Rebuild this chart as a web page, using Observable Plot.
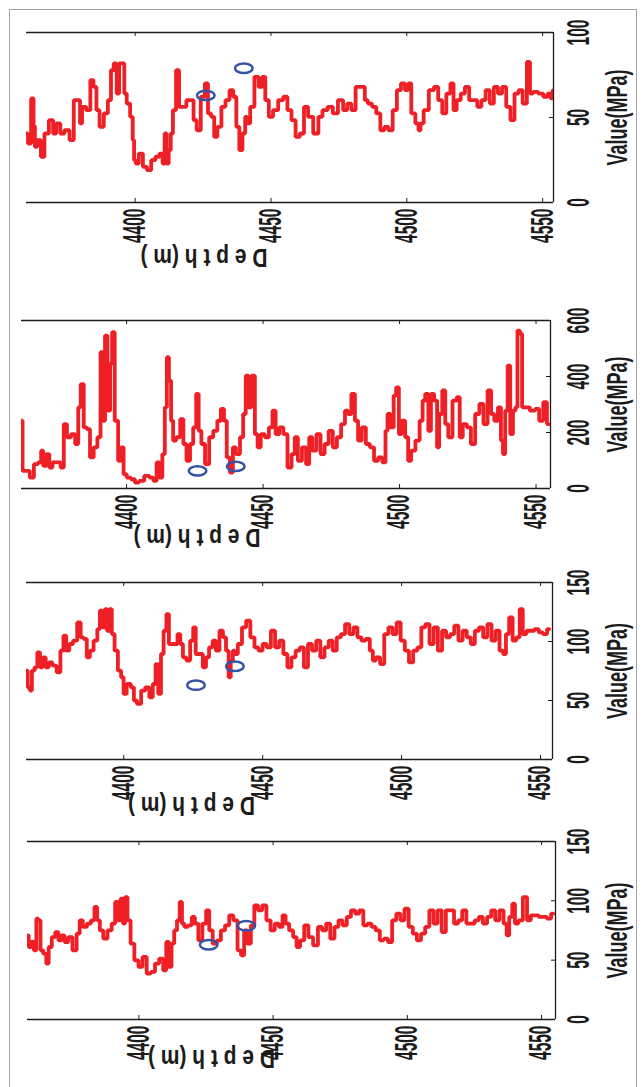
<!DOCTYPE html>
<html>
<head>
<meta charset="utf-8">
<script src="https://cdn.jsdelivr.net/npm/d3@7"></script>
<script src="https://cdn.jsdelivr.net/npm/@observablehq/plot@0.6"></script>
<style>
  html, body { margin: 0; padding: 0; background: #fff; }
  #fig { position: relative; width: 643px; height: 1087px; overflow: hidden; background: #fff; }
  #border { position: absolute; left: 9px; top: 9px; width: 628px; height: 1100px; border: 1.5px solid #a3a3a3; box-sizing: border-box; }
  .panel { position: absolute; left: 0; }
</style>
</head>
<body>
<div id="fig"><div id="border"></div></div>
<script>
// ---------------- data ----------------
const depthTicks = [4400, 4450, 4500, 4550];
const depthLabel = "D e p t h (m )";
const valueLabel = "Value(MPa)";
const markerDepth = [4426, 4440];
const markerValue = [63, 79];

const yTicks1 = [0, 50, 100];
const yTicks2 = [0, 200, 400, 600];
const yTicks3 = [0, 50, 100, 150];
const yTicks4 = [0, 50, 100, 150];

const depth1 = [4360.0,4361.1,4362.3,4362.9,4363.3,4364.5,4366.1,4367.1,4369.4,4370.2,4371.7,4373.2,4374.7,4377.0,4377.8,4379.3,4380.1,4380.8,4383.1,4383.9,4385.4,4386.1,4387.7,4389.2,4390.7,4391.5,4392.7,4393.7,4394.5,4395.7,4396.3,4397.5,4398.8,4399.4,4399.8,4400.6,4402.1,4403.6,4405.1,4406.7,4408.2,4409.7,4410.5,4411.2,4412.0,4412.7,4413.5,4414.3,4415.8,4416.5,4418.1,4419.6,4421.1,4421.9,4423.4,4424.9,4426.4,4427.2,4428.7,4429.5,4431.0,4432.5,4434.0,4435.5,4436.7,4437.8,4438.9,4440.1,4440.9,4441.6,4443.1,4444.7,4446.2,4447.4,4448.4,4450.0,4451.5,4453.8,4455.3,4456.8,4458.3,4459.8,4461.4,4462.9,4464.4,4466.7,4468.2,4469.7,4472.0,4473.5,4475.8,4477.3,4478.8,4480.4,4481.9,4484.2,4484.9,4486.4,4488.0,4489.5,4491.0,4492.5,4494.0,4495.6,4497.1,4498.6,4500.1,4500.9,4502.4,4503.9,4504.7,4505.4,4507.0,4509.2,4510.8,4512.3,4513.8,4515.3,4516.8,4517.6,4519.1,4520.6,4522.2,4523.7,4525.2,4526.7,4528.2,4529.8,4531.3,4532.8,4534.3,4535.8,4537.4,4538.9,4540.4,4541.9,4543.4,4545.0,4545.7,4547.2,4549.5,4551.0,4552.6,4553.3,4554.0];
const value1 = [40.6,34.7,61.2,45,32.7,36.7,26.9,40.6,48.4,40.6,46.5,40.6,42.5,36.7,60.2,60.2,46.5,56.3,54.3,72.0,68.0,54.3,44.5,52.4,60.2,77.8,81.8,64.1,81.8,81.8,64.1,58.2,50.4,36.7,24.9,22.9,28.8,21.0,19.0,24.9,26.9,28.8,22.9,40.6,22.9,30.8,40.6,54.3,77.8,56.3,56.3,60.2,60.2,48.4,42.5,62.2,70.0,52.4,50.4,38.6,44.5,56.3,60.2,66.1,62.2,44.5,30.8,40.6,50.4,46.5,56.3,73.9,68.0,73.9,60.2,50.4,54.3,60.2,62.2,54.3,48.4,38.6,40.6,56.3,50.4,40.6,50.4,54.3,56.3,52.4,60.2,54.3,58.2,54.3,68.0,68.0,60.2,58.2,56.3,52.4,42.5,44.5,42.5,54.3,66.1,70.0,66.1,70.0,52.4,46.5,42.5,46.5,54.3,66.1,68.0,60.2,52.4,64.1,70.0,54.3,60.2,64.1,68.0,60.2,60.2,56.3,60.2,66.1,58.2,68.0,64.1,68.0,56.3,48.4,64.1,66.1,58.2,82.7,64.1,65.1,64.1,62.2,64.1,61.2,66.0];

const depth2 = [4361.5,4362.3,4363.8,4365.3,4366.8,4368.3,4369.1,4369.8,4371.3,4372.1,4373.6,4375.1,4376.6,4377.4,4378.9,4380.4,4381.9,4382.7,4383.7,4384.9,4386.0,4387.2,4388.7,4389.9,4391.0,4391.7,4392.5,4393.5,4394.4,4395.0,4396.3,4397.5,4398.5,4399.3,4400.8,4402.3,4403.8,4405.3,4407.6,4409.1,4410.6,4411.4,4412.6,4413.6,4414.4,4415.1,4415.9,4416.7,4417.4,4418.9,4420.4,4421.2,4422.7,4423.8,4425.0,4426.0,4426.8,4428.0,4429.5,4431.0,4432.5,4434.0,4435.1,4436.3,4437.1,4438.6,4439.3,4440.8,4442.3,4443.1,4444.2,4445.1,4446.4,4447.6,4448.4,4449.9,4451.4,4452.9,4454.0,4455.2,4456.7,4458.2,4459.7,4461.2,4462.0,4463.5,4465.0,4466.5,4467.3,4468.8,4470.3,4471.8,4473.3,4474.8,4476.3,4477.8,4479.4,4480.6,4481.6,4483.1,4484.2,4485.4,4486.9,4488.4,4489.9,4491.4,4492.9,4494.5,4495.2,4496.0,4497.5,4498.2,4499.3,4500.2,4501.3,4502.8,4503.5,4505.0,4506.6,4508.1,4508.8,4510.0,4511.1,4511.9,4513.4,4514.1,4514.9,4516.4,4517.1,4518.6,4520.2,4521.7,4522.4,4523.9,4525.4,4526.9,4528.5,4530.0,4531.5,4533.0,4534.1,4535.3,4536.8,4537.5,4538.3,4539.1,4540.1,4541.0,4542.1,4542.8,4543.6,4544.6,4545.2,4546.6,4548.9,4550.4,4551.9,4553.4,4554.6];
const value2 = [242,63,63,39,87,93,135,81,123,75,93,93,75,230,183,194,159,290,373,218,212,111,147,183,487,242,546,278,445,558,242,99,147,51,39,33,21,27,45,39,27,93,39,123,290,469,385,242,171,183,248,159,99,159,218,338,206,159,87,183,206,242,284,242,111,57,147,123,183,266,403,290,403,194,147,194,183,218,278,194,218,194,75,123,183,99,147,87,183,135,194,123,159,206,147,183,230,278,266,338,242,171,218,159,147,99,111,93,206,266,218,332,361,194,242,183,99,135,171,242,314,338,206,338,314,147,266,350,230,183,314,326,183,230,218,159,266,302,230,350,266,242,290,171,123,278,439,194,278,290,564,552,290,290,278,284,242,308,230];

const depth3 = [4365.0,4365.9,4366.5,4367.4,4368.4,4369.4,4370.3,4371.4,4372.4,4373.6,4375.1,4376.6,4377.8,4378.8,4379.8,4381.0,4382.5,4384.0,4385.0,4386.2,4387.2,4388.4,4389.9,4391.1,4391.7,4392.9,4393.6,4394.4,4395.3,4396.1,4397.3,4398.5,4399.6,4400.3,4401.8,4403.3,4404.0,4405.5,4407.0,4408.5,4409.9,4411.0,4411.9,4412.9,4413.9,4414.8,4415.9,4416.6,4417.8,4418.8,4419.9,4420.8,4421.8,4423.3,4424.5,4425.5,4426.3,4427.7,4429.2,4430.0,4431.4,4432.6,4433.7,4435.2,4436.2,4437.4,4438.1,4438.9,4439.6,4440.3,4441.8,4443.3,4444.8,4446.3,4447.8,4449.2,4450.7,4452.2,4453.7,4455.2,4456.7,4458.2,4459.6,4461.1,4462.6,4464.1,4465.6,4467.0,4468.5,4470.0,4471.5,4473.0,4474.5,4475.9,4477.4,4478.9,4480.4,4481.9,4483.4,4484.8,4486.3,4487.8,4489.3,4490.0,4491.5,4493.0,4494.5,4496.0,4497.5,4498.9,4500.4,4501.9,4503.4,4504.9,4506.4,4507.8,4509.3,4510.8,4512.3,4513.8,4515.3,4516.7,4518.2,4519.7,4521.2,4522.7,4524.2,4525.6,4527.1,4528.6,4530.1,4531.6,4533.1,4534.5,4536.0,4537.1,4538.0,4539.4,4540.5,4542.0,4543.0,4544.2,4545.7,4547.1,4548.6,4550.1,4551.6,4553.1];
const value3 = [75.3,61.2,58.4,75.3,78.1,90.8,78.1,86.6,78.1,82.3,79.5,73.9,92.2,104.9,92.2,97.9,100.7,116.2,103.5,102.1,86.6,92.2,100.7,110.5,126.1,112.0,127.5,109.1,127.5,106.3,92.2,75.3,69.7,55.6,64.0,61.2,49.9,47.1,58.4,61.2,52.7,64.0,80.9,55.6,89.4,109.1,123.2,97.9,97.9,97.9,106.3,97.9,86.6,83.8,100.7,112.0,89.4,89.4,78.1,86.6,95.0,100.7,92.2,109.1,103.5,92.2,69.7,83.8,92.2,89.4,97.9,112.0,117.6,103.5,95.0,92.2,97.9,95.0,109.1,95.0,100.7,89.4,78.1,86.6,92.2,95.0,78.1,97.9,92.2,100.7,86.6,95.0,100.7,92.2,103.5,106.3,114.8,106.3,112.0,103.5,100.7,102.1,92.2,83.8,86.6,80.9,106.3,112.0,106.3,116.2,100.7,92.2,82.3,92.2,95.0,112.0,114.8,97.9,112.0,92.2,109.1,103.5,106.3,113.4,100.7,109.1,103.5,97.9,109.1,112.0,103.5,114.8,100.7,109.1,92.2,89.4,106.3,120.4,100.7,103.5,127.5,106.3,109.1,109.1,110.5,107.7,106.3,110.5];

const depth4 = [4358.5,4359.4,4360.3,4361.4,4362.2,4363.0,4363.7,4365.0,4366.0,4366.8,4368.3,4369.4,4370.6,4371.7,4372.9,4374.5,4376.0,4377.6,4378.3,4379.9,4381.4,4382.9,4384.0,4384.9,4386.0,4387.5,4389.1,4390.6,4391.7,4392.6,4393.7,4394.5,4395.2,4396.3,4397.5,4399.1,4400.6,4402.1,4403.7,4405.2,4406.8,4408.3,4409.8,4410.6,4411.7,4412.6,4413.7,4414.7,4415.7,4416.4,4417.5,4419.1,4420.3,4421.4,4422.9,4424.4,4425.7,4426.7,4428.3,4429.8,4431.3,4432.9,4434.4,4436.0,4437.5,4438.6,4439.8,4441.0,4442.4,4443.6,4445.2,4446.7,4448.3,4449.8,4451.4,4452.9,4454.1,4455.2,4456.7,4458.2,4459.3,4460.8,4462.4,4463.9,4465.9,4467.5,4469.0,4470.5,4472.1,4473.6,4475.1,4476.7,4478.2,4479.8,4481.3,4482.8,4484.4,4485.9,4487.4,4489.0,4490.5,4492.0,4493.6,4495.1,4496.7,4498.2,4499.7,4501.3,4502.8,4504.3,4505.9,4507.4,4509.0,4510.5,4512.0,4513.6,4515.1,4516.6,4518.2,4519.7,4521.2,4522.8,4524.3,4525.9,4527.4,4528.9,4530.5,4532.0,4533.5,4535.1,4536.6,4537.4,4538.5,4539.7,4540.5,4542.3,4543.8,4545.4,4546.6,4548.1,4549.7,4551.2,4552.8,4554.3];
const value4 = [70.9,61.1,65.3,58.3,85.0,83.6,58.3,55.5,47.1,61.1,69.5,73.7,66.7,70.9,65.3,69.5,58.3,72.3,83.6,78.0,80.8,83.6,94.8,83.6,75.1,68.1,75.1,80.8,99.0,83.6,101.8,80.8,103.2,83.6,63.9,49.9,44.3,52.7,38.7,40.1,47.1,51.3,41.5,65.3,44.3,63.9,75.1,83.6,99.0,80.8,78.0,79.4,86.4,80.8,66.7,80.8,92.0,75.1,63.9,66.7,75.1,79.4,87.8,83.6,58.3,54.1,75.1,63.9,79.4,96.2,92.0,96.2,83.6,75.1,80.8,78.0,87.8,80.8,75.1,69.5,61.1,66.7,79.4,69.5,62.5,78.0,75.1,80.8,68.1,78.0,83.6,79.4,86.4,92.0,89.2,92.0,79.4,80.8,78.0,75.1,66.7,68.1,65.3,83.6,89.2,83.6,93.4,78.0,72.3,66.7,72.3,78.0,92.0,80.8,92.0,73.7,92.0,92.0,80.8,83.6,92.0,80.8,80.8,83.6,86.4,80.8,86.4,92.0,83.6,92.0,80.8,70.9,86.4,97.6,80.8,83.6,103.2,83.6,87.8,87.8,86.4,86.4,85.0,89.2];

// ---------------- layout ----------------
const panels = [
  {depth: depth1, value: value1, yTicks: yTicks1, top: 0,   height: 270, mt: 32, mb: 68, ml: 26, mr: 90, xd: [4360, 4554],     yd: [0, 100], lab: [-86, 46]},
  {depth: depth2, value: value2, yTicks: yTicks2, top: 280, height: 270, mt: 40, mb: 62, ml: 21, mr: 93, xd: [4361.5, 4555.3], yd: [0, 600], lab: [-89, 40]},
  {depth: depth3, value: value3, yTicks: yTicks3, top: 550, height: 270, mt: 32, mb: 61, ml: 26, mr: 91, xd: [4365, 4554.3],   yd: [0, 150], lab: [-98, 37]},
  {depth: depth4, value: value4, yTicks: yTicks4, top: 810, height: 277, mt: 31, mb: 68, ml: 27, mr: 88, xd: [4358.5, 4555.2], yd: [0, 150], lab: [-80, 30]}
];

const W = 643;
const RED = "#ee2026";
const BLUE = "#3553a5";
const INK = "#1c1c1c";
const FONT = "'Liberation Sans', Arial, Helvetica, sans-serif";

// elliptical ring marker (matches the squashed circles in the figure)
const ellipse = {
  draw(ctx) {
    const rx = 8.8, ry = 4.7, k = 0.5523;
    ctx.moveTo(rx, 0);
    ctx.bezierCurveTo(rx, ry * k, rx * k, ry, 0, ry);
    ctx.bezierCurveTo(-rx * k, ry, -rx, ry * k, -rx, 0);
    ctx.bezierCurveTo(-rx, -ry * k, -rx * k, -ry, 0, -ry);
    ctx.bezierCurveTo(rx * k, -ry, rx, -ry * k, rx, 0);
    ctx.closePath();
  }
};

const markers = markerDepth.map((d, i) => ({d, v: markerValue[i]}));
const fig = document.getElementById("fig");

panels.forEach((p) => {
  const data = p.depth.map((d, i) => ({d, v: p.value[i]}));
  const innerH = p.height - p.mt - p.mb;
  const innerW = W - p.ml - p.mr;
  const labelX = 617 - (W - p.mr);
  const tickPad = 566 - (W - p.mr);

  const svg = Plot.plot({
    width: W,
    height: p.height,
    marginTop: p.mt,
    marginBottom: p.mb,
    marginLeft: p.ml,
    marginRight: p.mr,
    style: {fontFamily: FONT, color: INK, background: "transparent", overflow: "visible"},
    x: {domain: p.xd},
    y: {domain: p.yd},
    marks: [
      Plot.line(data, {x: "d", y: "v", stroke: RED, strokeWidth: 3.8, strokeLinejoin: "miter", curve: "step", clip: true}),
      Plot.dot(markers, {x: "d", y: "v", symbol: ellipse, stroke: BLUE, strokeWidth: 2.5, fill: "none"}),
      // frame lines: top, bottom, right
      Plot.ruleY([p.yd[1]], {stroke: INK, strokeWidth: 1.3}),
      Plot.ruleY([p.yd[0]], {stroke: INK, strokeWidth: 1.3}),
      Plot.ruleX([p.xd[1]], {stroke: INK, strokeWidth: 1.3}),
      // inward ticks
      Plot.ruleX(depthTicks, {insetTop: innerH - 4, stroke: INK, strokeWidth: 1}),
      Plot.ruleX(depthTicks, {insetBottom: innerH - 4, stroke: INK, strokeWidth: 1}),
      Plot.ruleY(p.yTicks, {insetLeft: innerW - 4, stroke: INK, strokeWidth: 1}),
      // axes
      Plot.axisX({ticks: depthTicks, tickFormat: d3.format("d"), tickSize: 0, tickPadding: 6, tickRotate: -90,
                  textAnchor: "end", lineAnchor: "middle", fontSize: 31, fontWeight: "bold", label: null, fill: INK}),
      Plot.axisY({anchor: "right", ticks: p.yTicks, tickFormat: d3.format("d"), tickSize: 0, tickPadding: tickPad, tickRotate: -90,
                  textAnchor: "middle", lineAnchor: "top", fontSize: 31, fontWeight: "bold", label: null, fill: INK}),
      Plot.text([valueLabel], {frameAnchor: "right", dx: labelX, rotate: -90, textAnchor: "middle", lineAnchor: "middle",
                  fontSize: 30, fontWeight: "bold", fill: INK}),
      Plot.text([depthLabel], {frameAnchor: "bottom", dx: p.lab[0], dy: p.lab[1], rotate: 180, textAnchor: "middle",
                  lineAnchor: "bottom", fontSize: 25, fontWeight: "bold", fill: INK})
    ]
  });

  // squeeze rotated labels horizontally (in text space), as in the reference
  const squeeze = (sel, sx, sy = 1) => sel
    .attr("transform", function () { return (this.getAttribute("transform") || "") + ` scale(${sx},${sy})`; });
  const root = d3.select(svg);
  squeeze(root.selectAll('g[aria-label="x-axis tick label"] text'), 0.5);
  squeeze(root.selectAll('g[aria-label="y-axis tick label"] text'), 0.5);
  squeeze(root.selectAll("text").filter(function () { return this.textContent === valueLabel; }), 0.6);
  squeeze(root.selectAll("text").filter(function () { return this.textContent === depthLabel; }), 0.84);

  svg.classList.add("panel");
  svg.style.top = p.top + "px";
  svg.style.position = "absolute";
  svg.style.left = "0px";
  fig.appendChild(svg);
});
</script>
</body>
</html>
